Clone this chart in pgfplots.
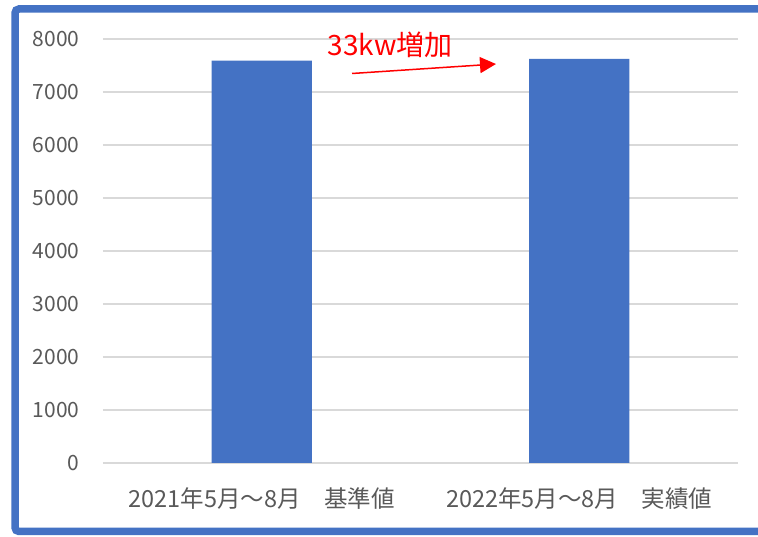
\documentclass[border=0pt]{standalone}
\usepackage{pgfplots}
\pgfplotsset{compat=1.18}
\usepackage{fontspec}
\setmainfont{Noto Sans CJK JP}
\usetikzlibrary{arrows.meta}
\definecolor{barblue}{HTML}{4472C4}
\definecolor{gridgray}{HTML}{D9D9D9}
\definecolor{ticktext}{HTML}{595959}
\begin{document}
\begin{tikzpicture}[x=1pt,y=1pt]
\path[use as bounding box] (0,0) rectangle (758,537);
\fill[white] (0,0) rectangle (758,537);
\draw[barblue, line width=7.5pt, rounded corners=4pt] (790,528) -- (15,528) -- (15,5.5) -- (790,5.5);
\begin{axis}[
  at={(103pt,74pt)}, anchor=south west,
  scale only axis, width=635pt, height=424pt,
  xmin=-0.5, xmax=1.5, ymin=0, ymax=8000,
  ybar, bar width=0.315,
  xtick={0,1},
  xticklabels={2021年5月～8月　基準値, 2022年5月～8月　実績値},
  ytick={0,1000,...,8000},
  ymajorgrids, grid style={gridgray, line width=1.5pt},
  axis line style={draw=none},
  major tick length=0pt,
  tick style={draw=none},
  /pgf/number format/assume math mode=true,
  /pgf/number format/1000 sep={},
  yticklabel style={font=\fontsize{21}{25}\selectfont, text=ticktext, anchor=east, xshift=-20pt},
  xticklabel style={font=\fontsize{23.5}{27}\selectfont, text=ticktext, anchor=center, yshift=-36pt},
  clip=false,
]
\addplot[fill=barblue, draw=none] coordinates {(0,7590) (1,7623)};
\node[text=red, font=\fontsize{28}{32}\selectfont] at (axis cs:0.404,7887) {33kw増加};
\draw[red, line width=1.5pt, -{Triangle[length=16pt,width=16pt]}] (axis cs:0.2843,7349) -- (axis cs:0.7378,7528);
\end{axis}
\end{tikzpicture}
\end{document}
